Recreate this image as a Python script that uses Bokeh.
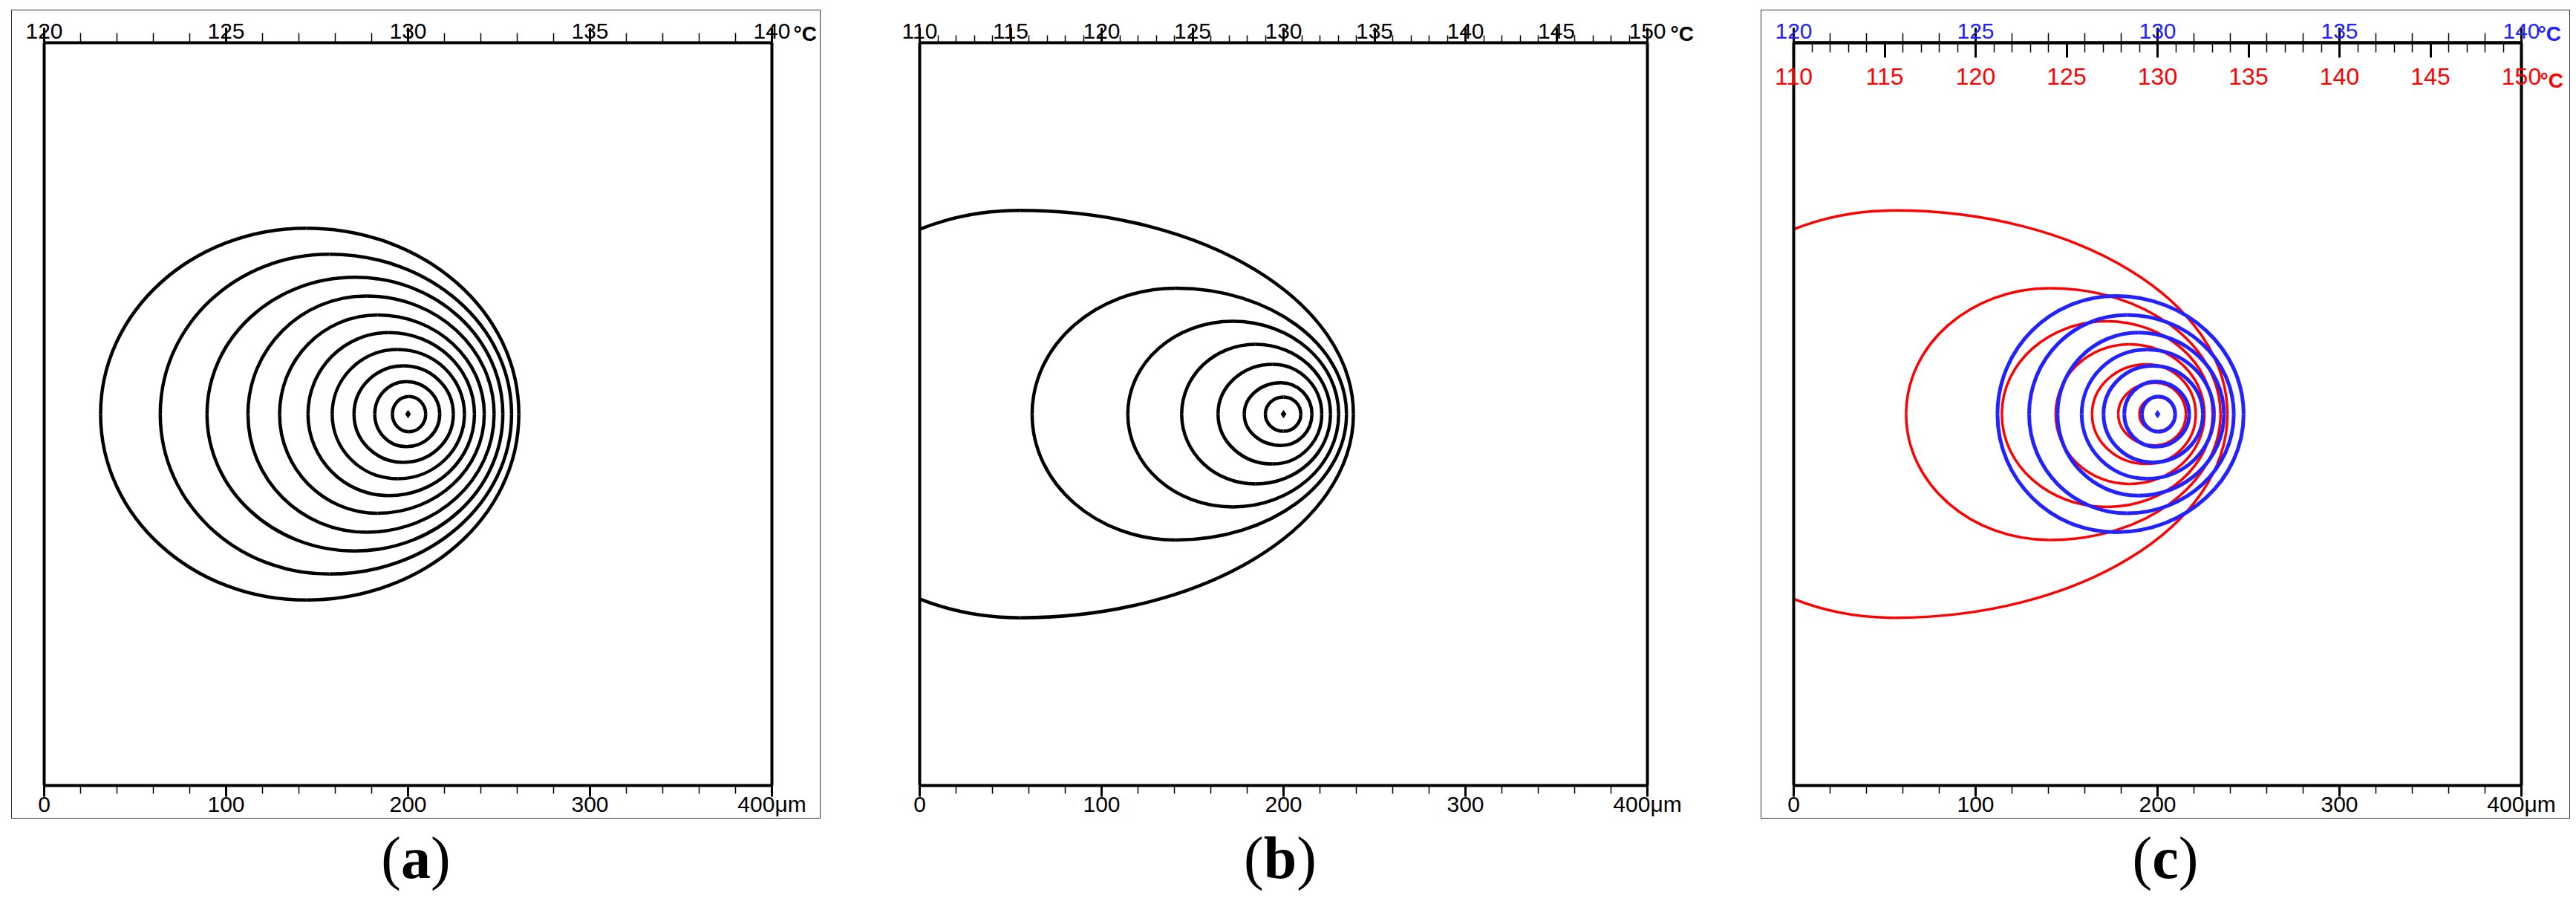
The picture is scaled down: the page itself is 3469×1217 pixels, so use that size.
from bokeh.plotting import figure
from bokeh.models import (Range1d, LinearAxis, SingleIntervalTicker, ColumnDataSource,
                          Label, Div, Spacer)
from bokeh.layouts import row, column
from bokeh.embed import file_html
from bokeh.resources import INLINE

# ---------------- data (positions in µm) ----------------
# isotherms of panel (a): left / right crossing of the centre line, x of the
# highest point and half height of each closed contour (outermost first)
A_LEFT = [31.0, 63.8, 89.5, 112.0, 129.4, 145.0, 158.3, 170.3, 181.7, 191.4]
A_RIGHT = [260.9, 256.9, 252.1, 247.3, 241.9, 236.5, 231.0, 224.9, 217.4, 209.7]
A_XTOP = [144.0, 156.7, 170.8, 177.0, 183.2, 189.5, 194.2, 197.4, 199.0, 200.5]
A_HALFH = [102.2, 87.9, 75.2, 64.9, 54.5, 44.8, 35.5, 26.5, 17.9, 9.7]

# isotherms of panel (b)
B_LEFT = [-76.0, 61.8, 114.4, 144.0, 164.0, 178.4, 190.0]
B_RIGHT = [238.4, 234.6, 230.3, 225.8, 221.0, 215.6, 209.5]
B_XTOP = [55.0, 140.9, 172.1, 184.6, 194.0, 198.6, 200.0]
B_HALFH = [111.9, 69.2, 51.0, 38.4, 27.4, 17.2, 9.4]

# panel (c) overlays the inner isotherms of (a) (blue) on those of (b) (red)
C_BLUE_FIRST = 3

HOT_X = [200.0]
HOT_Y = [0.0]

X_RANGE = (0, 400)            # µm
Y_RANGE = (-204.1, 204.1)     # µm
T_RANGE_A = (120, 140)        # °C
T_RANGE_B = (110, 150)        # °C
X_TICK_STEP = 100
T_TICK_STEP = 5
X_LABEL_OVERRIDES = {400: "400μm"}

# ---------------- styling / layout ----------------
FONT = "Liberation Sans"
BLUE = "#2222ff"
RED = "#ff0000"
W, H = 1088, 1087                 # canvas of one panel (= grey box)
PX = 2.45                         # px per µm
MBL, MBR, MBT, MBB = 43, 65, 43, 44   # box position inside the canvas
K = 0.5523

VIEW_X = (X_RANGE[0] - MBL / PX, X_RANGE[1] + MBR / PX)
VIEW_Y = (Y_RANGE[0] - MBB / PX, Y_RANGE[1] + MBT / PX)


def t_view(trange):
    k = (trange[1] - trange[0]) / (X_RANGE[1] - X_RANGE[0])
    return (trange[0] + (VIEW_X[0] - X_RANGE[0]) * k,
            trange[0] + (VIEW_X[1] - X_RANGE[0]) * k)


def _lerp(a, b, t):
    return (a[0] + (b[0] - a[0]) * t, a[1] + (b[1] - a[1]) * t)


def _split(p0, c0, c1, p1, t):
    a, b, c = _lerp(p0, c0, t), _lerp(c0, c1, t), _lerp(c1, p1, t)
    d, e = _lerp(a, b, t), _lerp(b, c, t)
    f = _lerp(d, e, t)
    return (p0, a, d, f), (f, e, c, p1)


def _bx(p0, c0, c1, p1, t):
    u = 1 - t
    return u ** 3 * p0[0] + 3 * u * u * t * c0[0] + 3 * u * t * t * c1[0] + t ** 3 * p1[0]


def clip_left(seg, xmin):
    p0, c0, c1, p1 = seg
    xs = [p0[0], c0[0], c1[0], p1[0]]
    if min(xs) >= xmin or (p0[0] >= xmin and p1[0] >= xmin):
        return seg
    if max(xs) < xmin:
        return None
    lo, hi = 0.0, 1.0
    inside0 = p0[0] >= xmin
    for _ in range(60):
        mid = (lo + hi) / 2
        if (_bx(p0, c0, c1, p1, mid) >= xmin) == inside0:
            lo = mid
        else:
            hi = mid
    first, second = _split(p0, c0, c1, p1, (lo + hi) / 2)
    return first if inside0 else second


def ring_source(left, right, xtop, halfh):
    cols = {k: [] for k in ("x0", "y0", "x1", "y1", "cx0", "cy0", "cx1", "cy1")}
    for l, r, t, h in zip(left, right, xtop, halfh):
        ar, al = r - t, t - l
        segs = [
            ((r, 0), (r, K * h), (t + K * ar, h), (t, h)),
            ((t, h), (t - K * al, h), (l, K * h), (l, 0)),
            ((l, 0), (l, -K * h), (t - K * al, -h), (t, -h)),
            ((t, -h), (t + K * ar, -h), (r, -K * h), (r, 0)),
        ]
        for seg in segs:
            seg = clip_left(seg, X_RANGE[0])      # isotherms end at the box edge
            if seg is None:
                continue
            p0, c0, c1, p1 = seg
            cols["x0"].append(p0[0]); cols["y0"].append(p0[1])
            cols["x1"].append(p1[0]); cols["y1"].append(p1[1])
            cols["cx0"].append(c0[0]); cols["cy0"].append(c0[1])
            cols["cx1"].append(c1[0]); cols["cy1"].append(c1[1])
    return ColumnDataSource(cols)


def make_panel(boxed):
    p = figure(width=W, height=H, x_range=Range1d(*VIEW_X), y_range=Range1d(*VIEW_Y),
               output_backend="svg", toolbar_location=None,
               x_axis_location=None, y_axis_location=None,
               min_border=0, min_border_left=0, min_border_right=0,
               min_border_top=0, min_border_bottom=0,
               background_fill_color="white", border_fill_color="white")
    p.title.visible = False
    p.xgrid.visible = False
    p.ygrid.visible = False
    p.outline_line_color = None
    if boxed:
        p.styles = {"outline": "1.5px solid #333333"}
    return p


def add_axis(p, side, range_name, bounds, step, fixed, color, tick_out, minor_out,
             standoff, size="30px", overrides=None):
    ax = LinearAxis(x_range_name=range_name, bounds=bounds,
                    ticker=SingleIntervalTicker(interval=step, num_minor_ticks=5),
                    fixed_location=fixed)
    ax.axis_line_color = "black"
    ax.axis_line_width = 4
    ax.major_tick_in = 0
    ax.major_tick_out = tick_out
    ax.major_tick_line_width = 3
    ax.major_tick_line_color = "black"
    ax.minor_tick_in = 0
    ax.minor_tick_out = minor_out
    ax.minor_tick_line_width = 1.5
    ax.minor_tick_line_color = "black"
    ax.major_label_text_font = FONT
    ax.major_label_text_font_size = size
    ax.major_label_text_color = color
    ax.major_label_standoff = standoff
    if overrides:
        ax.major_label_overrides = overrides
    p.add_layout(ax, side)
    return ax


def add_unit(p, text, y, dx, dy, color, size="28px"):
    p.add_layout(Label(x=X_RANGE[1], y=y, text=text, x_offset=dx, y_offset=dy,
                       text_align="left", text_baseline="alphabetic",
                       text_font=FONT, text_font_size=size, text_font_style="bold",
                       text_color=color))


def draw_rings(p, src, color, width):
    p.bezier(x0="x0", y0="y0", x1="x1", y1="y1", cx0="cx0", cy0="cy0", cx1="cx1", cy1="cy1",
             source=src, line_color=color, line_width=width)


def draw_box_sides(p):
    p.segment(x0=[X_RANGE[0], X_RANGE[1]], y0=[Y_RANGE[0], Y_RANGE[0]],
              x1=[X_RANGE[0], X_RANGE[1]], y1=[Y_RANGE[1], Y_RANGE[1]],
              line_color="black", line_width=4)


def caption(letter, width, box_width):
    html = ('<div style="width:%dpx;font-family:\'Liberation Serif\';font-size:80px;'
            'line-height:80px;text-align:center;padding-top:14px;color:black">'
            '(<b>%s</b>)</div>' % (width, letter))
    return Div(text=html, width=box_width, height=100, margin=0)


src_a = ring_source(A_LEFT, A_RIGHT, A_XTOP, A_HALFH)
src_b = ring_source(B_LEFT, B_RIGHT, B_XTOP, B_HALFH)
src_c_blue = ring_source(A_LEFT[C_BLUE_FIRST:], A_RIGHT[C_BLUE_FIRST:],
                         A_XTOP[C_BLUE_FIRST:], A_HALFH[C_BLUE_FIRST:])
src_c_red = ring_source(B_LEFT, B_RIGHT, B_XTOP, B_HALFH)

TOP_STANDOFF = -15
BOTTOM_STANDOFF = -7
RED_STANDOFF = 15

# ---------------- panel (a) ----------------
pa = make_panel(True)
pa.extra_x_ranges = {"T": Range1d(*t_view(T_RANGE_A))}
draw_rings(pa, src_a, "black", 4.5)
pa.scatter(HOT_X, HOT_Y, marker="diamond", size=10, color="black")
draw_box_sides(pa)
add_axis(pa, "above", "T", T_RANGE_A, T_TICK_STEP, Y_RANGE[1], "black", 20, 13, TOP_STANDOFF)
add_axis(pa, "below", "default", X_RANGE, X_TICK_STEP, Y_RANGE[0], "black", 15, 11,
         BOTTOM_STANDOFF, overrides=X_LABEL_OVERRIDES)
add_unit(pa, "°C", Y_RANGE[1], 29, 12, "black")

# ---------------- panel (b) ----------------
pb = make_panel(False)
pb.extra_x_ranges = {"T": Range1d(*t_view(T_RANGE_B))}
draw_rings(pb, src_b, "black", 4.5)
pb.scatter(HOT_X, HOT_Y, marker="diamond", size=10, color="black")
draw_box_sides(pb)
add_axis(pb, "above", "T", T_RANGE_B, T_TICK_STEP, Y_RANGE[1], "black", 20, 10, TOP_STANDOFF)
add_axis(pb, "below", "default", X_RANGE, X_TICK_STEP, Y_RANGE[0], "black", 15, 11,
         BOTTOM_STANDOFF, overrides=X_LABEL_OVERRIDES)
add_unit(pb, "°C", Y_RANGE[1], 31, 12, "black")

# ---------------- panel (c) ----------------
pc = make_panel(True)
pc.extra_x_ranges = {"TA": Range1d(*t_view(T_RANGE_A)), "TB": Range1d(*t_view(T_RANGE_B))}
draw_rings(pc, src_c_red, RED, 3.5)
draw_rings(pc, src_c_blue, BLUE, 5)
pc.scatter(HOT_X, HOT_Y, marker="diamond", size=10, color=BLUE)
draw_box_sides(pc)
add_axis(pc, "above", "TA", T_RANGE_A, T_TICK_STEP, Y_RANGE[1], BLUE, 20, 13, TOP_STANDOFF)
add_axis(pc, "below", "TB", T_RANGE_B, T_TICK_STEP, Y_RANGE[1], RED, 20, 13, RED_STANDOFF,
         size="32px")
add_axis(pc, "below", "default", X_RANGE, X_TICK_STEP, Y_RANGE[0], "black", 15, 11,
         BOTTOM_STANDOFF, overrides=X_LABEL_OVERRIDES)
add_unit(pc, "°C", Y_RANGE[1], 22, 12, BLUE)
add_unit(pc, "°C", Y_RANGE[1], 25, -51, RED)

layout = row(
    Spacer(width=16, height=10),
    column(Spacer(width=10, height=14), pa, caption("a", W, W)),
    Spacer(width=91, height=10),
    column(Spacer(width=10, height=14), pb, caption("b", W - 30, W)),
    Spacer(width=89, height=10),
    column(Spacer(width=10, height=14), pc, caption("c", W, W)),
)

open("out.html", "w").write(file_html(layout, INLINE))
